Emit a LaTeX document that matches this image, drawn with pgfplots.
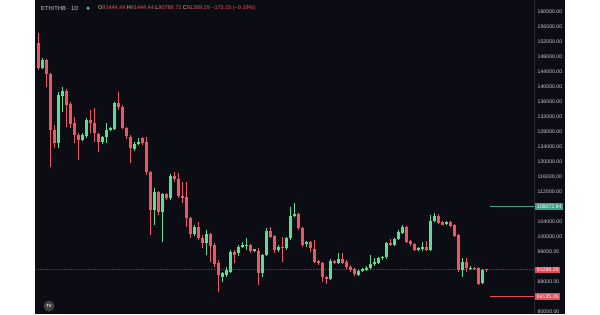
\documentclass[border=0pt]{standalone}
\usepackage{pgfplots}
\pgfplotsset{compat=1.18}
\usepackage{pgfplotstable}
\usepackage{fontspec}
\setmainfont{Liberation Sans}
\definecolor{bg}{RGB}{12,12,21}
\definecolor{upc}{RGB}{92,220,148}
\definecolor{dnc}{RGB}{235,87,98}
\definecolor{lab}{RGB}{200,200,206}
\definecolor{hdr}{RGB}{205,207,214}
\definecolor{sep}{RGB}{38,38,50}
\definecolor{glab}{RGB}{62,160,132}
\definecolor{rlab}{RGB}{226,78,90}
\definecolor{curline}{RGB}{120,40,55}

\pgfplotstableread{
k o h l c
1 145150 147650 144720 147200
5 124990 138750 123650 137870
6 137680 140080 133410 139010
11 125870 127650 125600 127200
12 126930 131650 126320 131200
16 125410 127000 124800 126590
17 126590 130480 124990 128530
18 128530 129400 128200 128990
19 128720 136080 128530 135810
24 123470 125410 123000 124800
25 124800 126320 124530 125410
29 107200 112990 103200 111920
31 106750 111650 98750 111390
33 110320 116800 109870 116270
39 100800 103200 100400 102750
42 98320 101870 95200 100800
46 89410 90750 88080 90320
47 89870 92000 89400 91200
48 90750 96530 90320 96080
50 95810 97800 95000 97250
51 97250 98750 96990 97790
52 97600 99650 96530 98000
54 96350 96800 95900 96600
56 90320 95400 89410 95200
57 95200 102320 94900 101680
60 96530 97870 96000 97410
62 97010 100080 96500 99650
63 99650 108080 99200 105600
64 105600 108990 105300 106130
67 98050 98990 97410 98590
73 88800 94080 88500 93600
75 93000 95730 92700 94050
80 89870 91300 89500 91010
81 91010 91800 90700 91470
82 91200 92300 91000 91810
83 91650 95200 91400 92800
84 92800 94300 92300 93410
85 93150 94600 92800 94320
86 94320 94900 94000 94600
87 94600 98800 94200 98320
89 97870 99700 97600 99390
90 99390 101800 99100 101410
91 101150 103200 100800 102590
95 96530 97400 96200 96970
96 96700 98750 96400 97400
98 96530 105870 96200 104350
99 104350 106480 104000 105600
102 103470 104400 103200 104080
106 91200 94300 89400 93410
108 91390 92200 91200 91810
111 87650 91450 87400 91200
}\uptab

\pgfplotstableread{
k o h l c
0 151650 154400 144500 145000
2 147200 147470 140080 143390
3 143390 143700 118750 128530
4 128530 129870 123650 124990
7 139010 139470 129410 135200
8 135470 136080 128990 130130
9 130320 132080 124990 127200
10 127200 127650 120530 125870
13 131200 133870 127650 130320
14 130320 134320 125410 127650
15 127470 127650 122750 125410
20 135810 138750 133870 134590
21 134750 135200 128720 128990
22 128990 129410 126050 126930
23 126750 127200 119650 123650
26 126320 126590 124530 124990
27 125250 126750 116500 117410
28 117410 117600 100530 107200
30 111920 112200 105870 106750
32 111390 111650 109870 110320
34 116270 117410 114750 115390
35 115390 116990 110320 110930
36 110930 114750 108990 110320
37 110590 114750 102750 104990
38 104990 105400 99650 100800
40 102750 104080 99200 99650
41 99650 100530 96990 98320
43 100800 101000 93410 97600
44 97790 98320 92080 92800
45 92990 93800 85410 89870
49 96080 96530 92990 95200
53 97870 98200 95800 96350
55 96350 97000 87200 90320
58 101680 102750 99650 100080
59 100270 100530 95650 96530
61 97410 100080 93410 97010
65 106130 106500 101870 102320
66 102320 102750 97410 97870
68 98590 98990 96080 96990
69 96800 99200 92990 93410
70 93600 94000 92600 92990
71 92990 93410 88080 89250
72 89250 89700 87500 88800
74 93600 94000 92700 93100
76 94050 95730 92900 93150
77 93400 93800 91500 92080
78 92080 92500 90800 91200
79 91400 91800 89600 90130
88 98320 99500 97500 97870
92 102590 102900 98400 98750
93 98930 99200 97700 98050
94 98130 98400 96300 96530
97 97400 99000 96300 96530
100 105600 106200 103400 103680
101 104000 104300 103200 103300
103 104080 104300 102800 103010
104 103200 103500 100000 100270
105 100530 100800 90800 91200
107 93410 94300 90800 91650
109 91810 92000 91200 91500
110 91650 91900 87200 87470
112 91444.44 91444.44 90789.72 91269.29
}\dntab

\pgfplotsset{
  candle/.style 2 args={draw=none, mark=none, forget plot,
    error bars/.cd, y dir=plus, y explicit, error mark=none,
    error bar style={draw=#1, line width=#2, line cap=butt}},
}

\begin{document}
\begin{tikzpicture}[x=1pt,y=1pt]
\useasboundingbox (0,0) rectangle (600,314);
\fill[white] (0,0) rectangle (600,314);
\fill[bg] (35,0) rectangle (565,314);
\draw[sep, line width=0.6pt] (534,0) -- (534,314);
\begin{axis}[
  at={(35pt,0pt)}, anchor=south west,
  width=499pt, height=314pt, scale only axis,
  xmin=-0.875, xmax=123.875, ymin=79466.67, ymax=163200,
  axis line style={draw=none},
  xtick=\empty,
  scaled y ticks=false,
  ytick={80000,88000,96000,100000,104000,112000,116000,120000,124000,128000,132000,136000,140000,144000,148000,152000,156000,160000},
  yticklabels={80000.00,88000.00,96000.00,100000.00,104000.00,112000.00,116000.00,120000.00,124000.00,128000.00,132000.00,136000.00,140000.00,144000.00,148000.00,152000.00,156000.00,160000.00},
  yticklabel pos=right,
  major tick length=0pt,
  ytick style={draw=none},
  yticklabel style={font=\fontsize{5.2}{6}\selectfont, text=lab, anchor=west, inner sep=0pt, xshift=3.5pt},
]
% current price line
\addplot[curline, densely dotted, line width=0.5pt, forget plot] coordinates {(-0.875,91269.29) (123.875,91269.29)};
% wicks
\addplot[candle={upc}{0.7pt}] table[x=k, y=l, y error plus expr={\thisrow{h}-\thisrow{l}}] {\uptab};
\addplot[candle={dnc}{0.7pt}] table[x=k, y=l, y error plus expr={\thisrow{h}-\thisrow{l}}] {\dntab};
% bodies
\addplot[candle={upc}{2.9pt}] table[x=k, y=o, y error plus expr={max(\thisrow{c}-\thisrow{o},320)}] {\uptab};
\addplot[candle={dnc}{2.9pt}] table[x=k, y=c, y error plus expr={max(\thisrow{o}-\thisrow{c},320)}] {\dntab};
% level lines
\addplot[glab, line width=0.6pt, forget plot] coordinates {(112.9,108072.94) (123.875,108072.94)};
\addplot[rlab, line width=0.6pt, forget plot] coordinates {(112.9,84135.05) (123.875,84135.05)};
\coordinate (G) at (axis cs:123.875,108072.94);
\coordinate (C) at (axis cs:123.875,91269.29);
\coordinate (R) at (axis cs:123.875,84135.05);
\end{axis}
\node[fill=glab, text=white, font=\fontsize{5.2}{6}\selectfont, inner xsep=1.7pt, inner ysep=1.4pt, anchor=west] at ([xshift=1pt]G) {108072.94};
\node[fill=rlab, text=white, font=\fontsize{5.2}{6}\selectfont, inner xsep=1.7pt, inner ysep=1.4pt, anchor=west] at ([xshift=1pt]C) {91269.29};
\node[fill=rlab, text=white, font=\fontsize{5.2}{6}\selectfont, inner xsep=1.7pt, inner ysep=1.4pt, anchor=west] at ([xshift=1pt]R) {84135.05};
% header
\node[anchor=west, inner sep=0pt, text=hdr, font=\fontsize{5.8}{7}\selectfont] at (41,305.8) {ETH/THB · 1D};
\fill[upc!70!black] (88,305.8) circle (1.8);
\fill[upc] (88,305.8) circle (1.0);
\node[anchor=west, inner sep=0pt, font=\fontsize{5.5}{7}\selectfont] at (98,305.8)
  {\textcolor{hdr}{O}\textcolor{dnc}{91444.44}\ \textcolor{hdr}{H}\textcolor{dnc}{91444.44}\ \textcolor{hdr}{L}\textcolor{dnc}{90789.72}\ \textcolor{hdr}{C}\textcolor{dnc}{91269.29}\ \textcolor{dnc}{−175.15 (−0.19\%)}};
% logo
\fill[black!75!white] (49,8) circle (5.5);
\node[text=white, font=\fontsize{4}{4}\selectfont\bfseries, inner sep=0pt] at (49,8) {TV};
\end{tikzpicture}
\end{document}
